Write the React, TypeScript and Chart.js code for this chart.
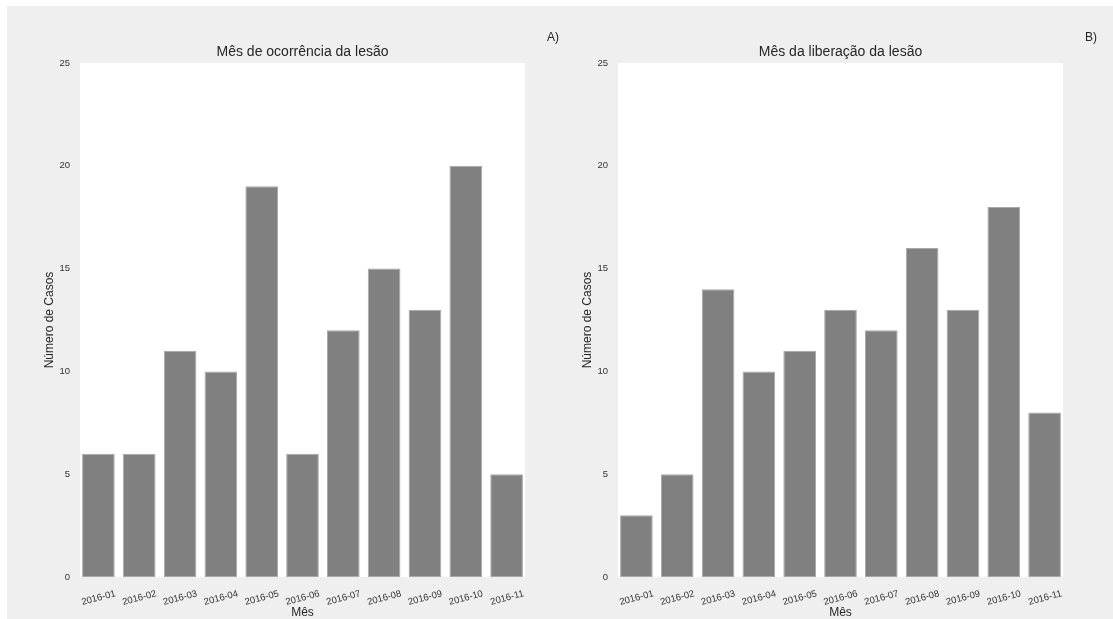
import React, { useEffect, useRef } from "react";
import { Chart, registerables } from "chart.js";

Chart.register(...registerables);

const categories = ["2016-01", "2016-02", "2016-03", "2016-04", "2016-05", "2016-06", "2016-07", "2016-08", "2016-09", "2016-10", "2016-11"];
const ocorrencia = [6, 6, 11, 10, 19, 6, 12, 15, 13, 20, 5];
const liberacao = [3, 5, 14, 10, 11, 13, 12, 16, 13, 18, 8];
const yMin = 0;
const yMax = 25;
const yStep = 5;
const titleA = "Mês de ocorrência da lesão";
const titleB = "Mês da liberação da lesão";
const xTitle = "Mês";
const yTitle = "Número de Casos";

const FONT = "'Liberation Sans', Arial, sans-serif";

const whitePlot = {
  id: "whitePlot",
  beforeDraw(chart: any) {
    const { ctx, chartArea } = chart;
    ctx.save();
    ctx.fillStyle = "#ffffff";
    ctx.fillRect(chartArea.left + 2, chartArea.top, chartArea.right - chartArea.left - 4, chartArea.bottom - chartArea.top);
    ctx.restore();
  },
};

function makeConfig(values: number[], title: string, yWidth: number, padRight: number, yTitlePad: number) {
  return {
    type: "bar",
    data: {
      labels: categories,
      datasets: [
        {
          data: values,
          backgroundColor: "#808080",
          borderColor: "#a8a8a8",
          borderWidth: 1,
          borderSkipped: false,
          categoryPercentage: 0.8,
          barPercentage: 1.0,
        },
      ],
    },
    options: {
      responsive: false,
      animation: false,
      layout: { padding: { top: 0, left: 0, right: padRight, bottom: 0 } },
      plugins: {
        legend: { display: false },
        tooltip: { enabled: false },
        title: {
          display: true,
          text: title,
          fullSize: false,
          color: "#262626",
          font: { family: FONT, size: 14, weight: "normal", lineHeight: 1.2 },
          padding: { top: 43.6, bottom: 2.6 },
        },
      },
      scales: {
        x: {
          grid: { display: false, drawTicks: false },
          border: { display: false },
          ticks: {
            color: "#333333",
            font: { family: FONT, size: 9.5 },
            minRotation: 15,
            maxRotation: 15,
            autoSkip: false,
            labelOffset: 17,
            padding: 11,
          },
          title: {
            display: true,
            text: xTitle,
            color: "#262626",
            font: { family: FONT, size: 12, lineHeight: 1 },
            padding: { top: 0, bottom: 0 },
          },
          afterFit(scale: any) {
            scale.height = 42;
          },
        },
        y: {
          min: yMin,
          max: yMax,
          grid: { display: false, drawTicks: false },
          border: { display: false },
          ticks: {
            stepSize: yStep,
            color: "#333333",
            font: { family: FONT, size: 9.5 },
            padding: 8,
          },
          title: {
            display: true,
            text: yTitle,
            color: "#262626",
            font: { family: FONT, size: 12, lineHeight: 1.2 },
            padding: { top: yTitlePad, bottom: 0 },
          },
          afterFit(scale: any) {
            scale.width = yWidth;
          },
        },
      },
    },
    plugins: [whitePlot],
  };
}

function BarPanel(props: { values: number[]; title: string; left: number; width: number; yWidth: number; padRight: number; yTitlePad: number }) {
  const ref = useRef<HTMLCanvasElement | null>(null);
  useEffect(() => {
    if (!ref.current) return;
    const chart = new Chart(ref.current, makeConfig(props.values, props.title, props.yWidth, props.padRight, props.yTitlePad) as any);
    return () => chart.destroy();
  }, []);
  return (
    <canvas
      ref={ref}
      width={props.width}
      height={619}
      style={{ position: "absolute", left: props.left, top: 0, width: props.width, height: 619 }}
    />
  );
}

export default function App() {
  const labelStyle: React.CSSProperties = {
    position: "absolute",
    fontFamily: FONT,
    fontSize: 12,
    color: "#262626",
    lineHeight: "13px",
    transform: "translate(-50%, -50%)",
    whiteSpace: "nowrap",
  };
  return (
    <div style={{ position: "fixed", left: 0, top: 0, width: 1113, height: 619, background: "#ffffff", overflow: "hidden" }}>
      <div style={{ position: "absolute", left: 7, top: 6, right: 0, bottom: 0, background: "#efefef" }} />
      <BarPanel values={ocorrencia} title={titleA} left={0} width={556} yWidth={78} padRight={29} yTitlePad={42.8} />
      <BarPanel values={liberacao} title={titleB} left={556} width={557} yWidth={60} padRight={48} yTitlePad={24.8} />
      <div style={{ ...labelStyle, left: 553, top: 37 }}>A)</div>
      <div style={{ ...labelStyle, left: 1091, top: 37 }}>B)</div>
    </div>
  );
}
